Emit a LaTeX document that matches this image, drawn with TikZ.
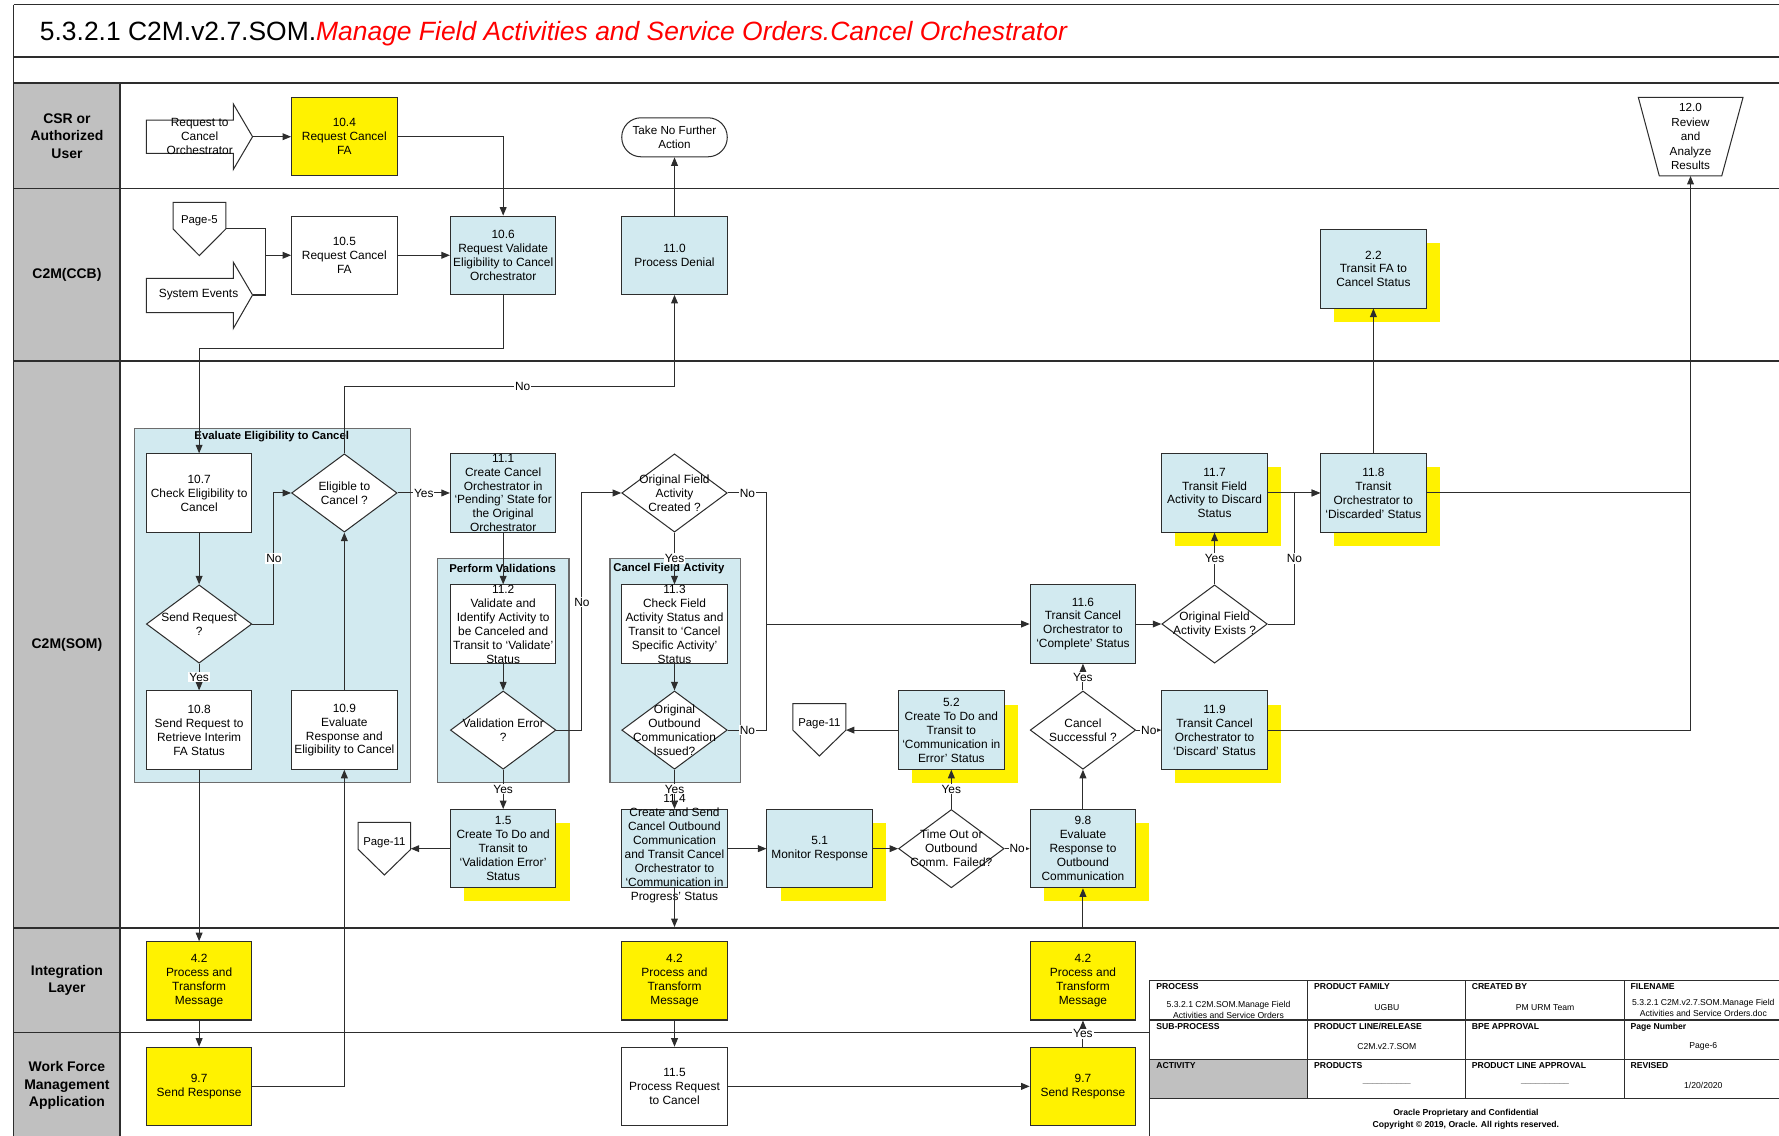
\documentclass[tikz,border=0pt]{standalone}
\usepackage{fontspec}
\setmainfont{Liberation Sans}
\usetikzlibrary{arrows.meta,shapes.geometric,shadows}
\definecolor{lblue}{RGB}{210,234,240}
\definecolor{lgray}{RGB}{192,192,192}
\definecolor{edge}{RGB}{45,45,45}
\definecolor{ttlred}{RGB}{255,0,0}
\begin{document}
\begin{tikzpicture}[x=1pt,y=-1pt,
  txt/.style={font=\fontsize{10.5}{12.3}\selectfont, align=center, inner sep=0pt, text=black},
  box/.style={draw=edge, line width=0.9pt, rectangle, minimum width=93pt, minimum height=69pt, inner sep=0pt},
  wbox/.style={box, fill=white},
  bbox/.style={box, fill=lblue},
  ybox/.style={box, fill=yellow},
  sbox/.style={bbox, drop shadow={fill=yellow, opacity=1, shadow xshift=12pt, shadow yshift=-12pt}},
  dia/.style={diamond, draw=edge, line width=0.9pt, fill=white, minimum width=93pt, minimum height=69pt, inner sep=0pt},
  conn/.style={draw=edge, line width=0.9pt},
  arr/.style={conn, -{Triangle[length=7.5pt,width=6pt]}},
  lbl/.style={fill=white, font=\fontsize{10.5}{12}\selectfont, inner sep=0.8pt},
  lanet/.style={font=\bfseries\fontsize{12.3}{15.5}\selectfont, align=center},
  laneline/.style={draw=edge, line width=1.4pt},
  grp/.style={draw=edge!70, line width=1.1pt, fill=lblue, inner sep=0pt},
  grpt/.style={font=\bfseries\fontsize{10}{12}\selectfont, inner sep=0pt},
  tabh/.style={font=\bfseries\fontsize{7.6}{9}\selectfont, anchor=north west, inner sep=0pt},
  tabc/.style={font=\fontsize{7.6}{9.6}\selectfont, align=center, inner sep=0pt},
  tabl/.style={draw=edge, line width=1pt},
]
\useasboundingbox (0,0) rectangle (1568,1001);
% ---------- frame and lanes ----------
\fill[lgray] (12,73) rectangle (106,1001);
\draw[laneline] (12,4) -- (1568,4);
\draw[laneline] (12,50) -- (1568,50);
\draw[laneline] (12,73) -- (1568,73);
\draw[laneline] (12,166) -- (1568,166);
\draw[laneline] (12,318) -- (1568,318);
\draw[laneline] (12,818) -- (1568,818);
\draw[laneline] (12,910) -- (1568,910);
\draw[laneline] (12,4) -- (12,1001);
\draw[laneline] (106,73) -- (106,1001);
\node[anchor=base west, inner sep=0pt, font=\fontsize{23.3}{27}\selectfont] (title) at (35,35.5)
  {5.3.2.1 C2M.v2.7.SOM.\textcolor{ttlred}{\itshape Manage Field Activities and Service Orders.Cancel Orchestrator}};
\node[lanet] (L1) at (59,120) {CSR or\\Authorized\\User};
\node[lanet] (L2) at (59,242) {C2M(CCB)};
\node[lanet] (L3) at (59,568) {C2M(SOM)};
\node[lanet] (L4) at (59,864) {Integration\\Layer};
\node[lanet] (L5) at (59,957) {Work Force\\Management\\Application};
% ---------- groups ----------
\node[grp, minimum width=243pt, minimum height=312pt, anchor=north west] (gEval) at (118,377) {};
\node[grpt] (tEval) at (239.5,385) {Evaluate Eligibility to Cancel};
\node[grp, minimum width=116pt, minimum height=197pt, anchor=north west] (gPerf) at (385,492) {};
\node[grpt] (tPerf) at (443,501) {Perform Validations};
\node[grp, minimum width=115pt, minimum height=197pt, anchor=north west] (gCanc) at (537,492) {};
\node[grpt] (tCanc) at (589.5,501) {Cancel Field Activity};
% ---------- CSR lane ----------
\draw[conn, fill=white] (129,105.8) -- (205.7,105.8) -- (205.7,91.7) -- (222.6,120.5) -- (205.7,149.3) -- (205.7,135.1) -- (129,135.1) -- cycle;
\node[txt, font=\fontsize{10.5}{12.5}\selectfont] (rq) at (176,120) {Request to\\Cancel\\Orchestrator};
\coordinate (rqtip) at (222.6,120.5);
\node[ybox, label={[txt]center:{10.4\\Request Cancel\\FA}}] (n104) at (303.5,120.5) {};
\node[draw=edge, line width=0.9pt, rounded corners=17pt, minimum width=93pt, minimum height=34.4pt, inner sep=0pt, fill=white, align=center, font=\fontsize{10.3}{12.5}\selectfont] (take) at (594.5,121) {Take No Further\\Action};
\draw[conn, fill=white] (1444,85.8) -- (1536.3,85.8) -- (1517.5,155.1) -- (1462.5,155.1) -- cycle;
\node[txt, font=\fontsize{10.3}{12.7}\selectfont] (n120) at (1490,120.5) {12.0\\Review\\and\\Analyze\\Results};
\coordinate (n120b) at (1490,155.1);
% ---------- CCB lane ----------
\draw[conn, fill=white] (152.5,178.3) -- (199,178.3) -- (199,201.8) -- (175.7,225.3) -- (152.5,201.8) -- cycle;
\node[txt, font=\fontsize{10}{12}\selectfont] (p5t) at (175.7,195) {Page-5};
\coordinate (p5r) at (199,201.8);
\draw[conn, fill=white] (129,245.3) -- (205.7,245.3) -- (205.7,231.2) -- (222.6,260) -- (205.7,289.4) -- (205.7,275.6) -- (129,275.6) -- cycle;
\node[txt] (sev) at (175,260) {System Events};
\coordinate (setip) at (222.6,260);
\coordinate (jse) at (233.8,260);
\node[wbox, label={[txt]center:{10.5\\Request Cancel\\FA}}] (n105) at (303.5,225) {};
\node[bbox, label={[txt]center:{10.6\\Request Validate\\Eligibility to Cancel\\Orchestrator}}] (n106) at (443.5,225) {};
\node[bbox, label={[txt]center:{11.0\\Process Denial}}] (n110) at (594.5,225) {};
\node[sbox, label={[txt]center:{2.2\\Transit FA to\\Cancel Status}}] (n22) at (1210.5,237) {};
% ---------- SOM lane ----------
\node[wbox, label={[txt]center:{10.7\\Check Eligibility to\\Cancel}}] (n107) at (175.5,434.5) {};
\node[dia, label={[txt]center:{Eligible to\\Cancel ?}}] (delig) at (303.5,434.5) {};
\node[dia, label={[txt]center:{Send Request\\?}}] (dsend) at (175.5,550) {};
\node[wbox, label={[txt]center:{10.8\\Send Request to\\Retrieve Interim\\FA Status}}] (n108) at (175.5,643.5) {};
\node[wbox, label={[txt]center:{10.9\\Evaluate\\Response and\\Eligibility to Cancel}}] (n109) at (303.5,643.5) {};
\node[bbox, label={[txt]center:{11.1\\Create Cancel\\Orchestrator in\\‘Pending’ State for\\the Original\\Orchestrator}}] (n111) at (443.5,434.5) {};
\node[wbox, label={[txt]center:{11.2\\Validate and\\Identify Activity to\\be Canceled and\\Transit to ‘Validate’\\Status}}] (n112) at (443.5,550) {};
\node[dia, label={[txt]center:{Validation Error\\?}}] (dval) at (443.5,643.5) {};
\node[sbox, label={[txt]center:{1.5\\Create To Do and\\Transit to\\‘Validation Error’\\Status}}] (n15) at (443.5,748) {};
\draw[conn, fill=white] (315.7,724.8) -- (362,724.8) -- (362,748.6) -- (338.8,771.2) -- (315.7,748.6) -- cycle;
\node[txt, font=\fontsize{10}{12}\selectfont] (pg11at) at (338.8,742.5) {Page-11};
\coordinate (pg11a) at (362,748);
\node[dia, label={[txt]center:{Original Field\\Activity\\Created ?}}] (dofc) at (594.5,434.5) {};
\node[wbox, label={[txt]center:{11.3\\Check Field\\Activity Status and\\Transit to ‘Cancel\\Specific Activity’\\Status}}] (n113) at (594.5,550) {};
\node[dia, label={[txt]center:{Original\\Outbound\\Communication\\Issued?}}] (dout) at (594.5,643.5) {};
\node[bbox, label={[txt]center:{11.4\\Create and Send\\Cancel Outbound\\Communication\\and Transit Cancel\\Orchestrator to\\‘Communication in\\Progress’ Status}}] (n114) at (594.5,748) {};
\node[sbox, label={[txt]center:{5.1\\Monitor Response}}] (n51) at (722.5,748) {};
\node[dia, label={[txt]center:{Time Out or\\Outbound\\Comm. Failed?}}] (dto) at (838.5,748) {};
\node[sbox, label={[txt]center:{5.2\\Create To Do and\\Transit to\\‘Communication in\\Error’ Status}}] (n52) at (838.5,643.5) {};
\draw[conn, fill=white] (698.8,620.2) -- (745.6,620.2) -- (745.6,643.5) -- (722.2,666.3) -- (698.8,643.5) -- cycle;
\node[txt, font=\fontsize{10}{12}\selectfont] (pg11bt) at (722.2,638) {Page-11};
\coordinate (pg11b) at (745.6,643.5);
\node[sbox, label={[txt]center:{9.8\\Evaluate\\Response to\\Outbound\\Communication}}] (n98) at (954.5,748) {};
\node[dia, label={[txt]center:{Cancel\\Successful ?}}] (dcs) at (954.5,643.5) {};
\node[bbox, label={[txt]center:{11.6\\Transit Cancel\\Orchestrator to\\‘Complete’ Status}}] (n116) at (954.5,550) {};
\node[dia, label={[txt]center:{Original Field\\Activity Exists ?}}] (dofe) at (1070.5,550) {};
\node[sbox, label={[txt]center:{11.7\\Transit Field\\Activity to Discard\\Status}}] (n117) at (1070.5,434.5) {};
\node[sbox, label={[txt]center:{11.8\\Transit\\Orchestrator to\\‘Discarded’ Status}}] (n118) at (1210.5,434.5) {};
\node[sbox, label={[txt]center:{11.9\\Transit Cancel\\Orchestrator to\\‘Discard’ Status}}] (n119) at (1070.5,643.5) {};
% ---------- Integration / WFM ----------
\node[ybox, label={[txt]center:{4.2\\Process and\\Transform\\Message}}] (n42a) at (175.5,864.5) {};
\node[ybox, label={[txt]center:{4.2\\Process and\\Transform\\Message}}] (n42b) at (594.5,864.5) {};
\node[ybox, label={[txt]center:{4.2\\Process and\\Transform\\Message}}] (n42c) at (954.5,864.5) {};
\node[ybox, label={[txt]center:{9.7\\Send Response}}] (n97a) at (175.5,957.5) {};
\node[wbox, label={[txt]center:{11.5\\Process Request\\to Cancel}}] (n115) at (594.5,957.5) {};
\node[ybox, label={[txt]center:{9.7\\Send Response}}] (n97b) at (954.5,957.5) {};
% ---------- connectors ----------
\draw[arr] (rqtip) -- (n104.west);
\draw[arr] (n104.east) -| (n106.north);
\draw[conn] (p5r) -| (jse) -- (setip);
\draw[arr] (jse |- n105.west) -- (n105.west);
\draw[arr] (n105) -- (n106);
\coordinate (k1) at (443.5,307);
\draw[arr] (n106.south) -- (k1) -| (n107.north);
\draw[arr] (n110) -- (take);
\draw[arr] (n107) -- (dsend);
\draw[arr] (dsend) -- node[lbl]{Yes} (n108);
\draw[arr] (dsend.east) -- ++(19,0) |- node[lbl,pos=0.25]{No} (delig.west);
\draw[arr] (n109) -- (delig);
\coordinate (k2) at (594.5,341);
\draw[arr] (delig.north) |- node[lbl,pos=0.77]{No} (k2) -- (n110.south);
\draw[arr] (delig) -- node[lbl]{Yes} (n111);
\draw[arr] (n108) -- (n42a);
\draw[arr] (n97a.east) -| (n109.south);
\draw[arr] (n111) -- (n112);
\draw[arr] (n112) -- (dval);
\draw[arr] (dval) -- node[lbl]{Yes} (n15);
\draw[arr] (dval.east) -- ++(22.5,0) |- node[lbl,pos=0.27]{No} (dofc.west);
\draw[arr] (n15.west) -- (pg11a);
\draw[arr] (dofc) -- node[lbl]{Yes} (n113);
\coordinate (k3) at (676,434.5);
\draw[conn] (dofc.east) -- node[lbl]{No} (k3) -- (k3 |- dout.east);
\draw[conn] (dout.east) -- node[lbl]{No} (k3 |- dout.east);
\draw[arr] (k3 |- n116.west) -- (n116.west);
\draw[arr] (n113) -- (dout);
\draw[arr] (dout) -- node[lbl]{Yes} (n114);
\draw[arr, shorten >=12.5pt] (n114) -- (n42b);
\draw[arr] (n114) -- (n51);
\draw[arr] (n51) -- (dto);
\draw[arr] (dto) -- node[lbl]{Yes} (n52);
\draw[arr] (dto) -- node[lbl]{No} (n98);
\draw[arr] (n52.west) -- (pg11b);
\draw[arr] (n98) -- (dcs);
\draw[arr] (dcs) -- node[lbl]{Yes} (n116);
\draw[arr] (dcs) -- node[lbl]{No} (n119);
\draw[arr] (n116) -- (dofe);
\draw[arr] (dofe) -- node[lbl]{Yes} (n117);
\draw[arr] (dofe.east) -- ++(23.5,0) |- node[lbl,pos=0.25]{No} (n118.west);
\draw[arr] (n117) -- (n118);
\draw[arr] (n118) -- (n22);
\draw[arr] (n118.east) -| (n120b);
\draw[conn] (n119.east) -| (n120b |- n118.east);
\draw[arr] (n42a) -- (n97a);
\draw[arr] (n42b) -- (n115);
\draw[arr] (n115) -- (n97b);
\draw[arr] (n97b) -- node[lbl]{Yes} (n42c);
\draw[arr, shorten <=11pt] (n42c) -- (n98);
% ---------- title block ----------
\fill[white] (1013,864) rectangle (1572,1005);
\fill[lgray] (1013,934) rectangle (1152.5,968);
\draw[tabl] (1572,864) -- (1013,864) -- (1013,1005);
\draw[tabl] (1013,899) -- (1572,899);
\draw[tabl] (1013,934) -- (1572,934);
\draw[tabl] (1013,968) -- (1572,968);
\draw[tabl] (1152.5,864) -- (1152.5,968);
\draw[tabl] (1292,864) -- (1292,968);
\draw[tabl] (1431.5,864) -- (1431.5,968);
\node[tabh] (h1) at (1019,867) {PROCESS};
\node[tabh] (h2) at (1158,867) {PRODUCT FAMILY};
\node[tabh] (h3) at (1297,867) {CREATED BY};
\node[tabh] (h4) at (1437,867) {FILENAME};
\node[tabh] (h5) at (1019,901.5) {SUB-PROCESS};
\node[tabh] (h6) at (1158,901.5) {PRODUCT LINE/RELEASE};
\node[tabh] (h7) at (1297,901.5) {BPE APPROVAL};
\node[tabh] (h8) at (1437,901.5) {Page Number};
\node[tabh] (h9) at (1019,936.5) {ACTIVITY};
\node[tabh] (h10) at (1158,936.5) {PRODUCTS};
\node[tabh] (h11) at (1297,936.5) {PRODUCT LINE APPROVAL};
\node[tabh] (h12) at (1437,936.5) {REVISED};
\node[tabc] (v1) at (1082.8,890) {5.3.2.1 C2M.SOM.Manage Field\\Activities and Service Orders};
\node[tabc] (v2) at (1222.3,888) {UGBU};
\node[tabc] (v3) at (1361.8,888) {PM URM Team};
\node[tabc] (v4) at (1501.3,888) {5.3.2.1 C2M.v2.7.SOM.Manage Field\\Activities and Service Orders.doc};
\node[tabc] (v6) at (1222.3,922) {C2M.v2.7.SOM};
\node[tabc] (v8) at (1501.3,922) {Page-6};
\node[tabc, text=black!60] (v10) at (1222.3,955) {\_\_\_\_\_\_\_\_\_\_};
\node[tabc, text=black!60] (v11) at (1361.8,955) {\_\_\_\_\_\_\_\_\_\_};
\node[tabc] (v12) at (1501.3,957) {1/20/2020};
\node[tabc, font=\bfseries\fontsize{7.6}{11}\selectfont] (foot) at (1292,986.5) {Oracle Proprietary and Confidential\\Copyright © 2019, Oracle. All rights reserved.};
\end{tikzpicture}
\end{document}
